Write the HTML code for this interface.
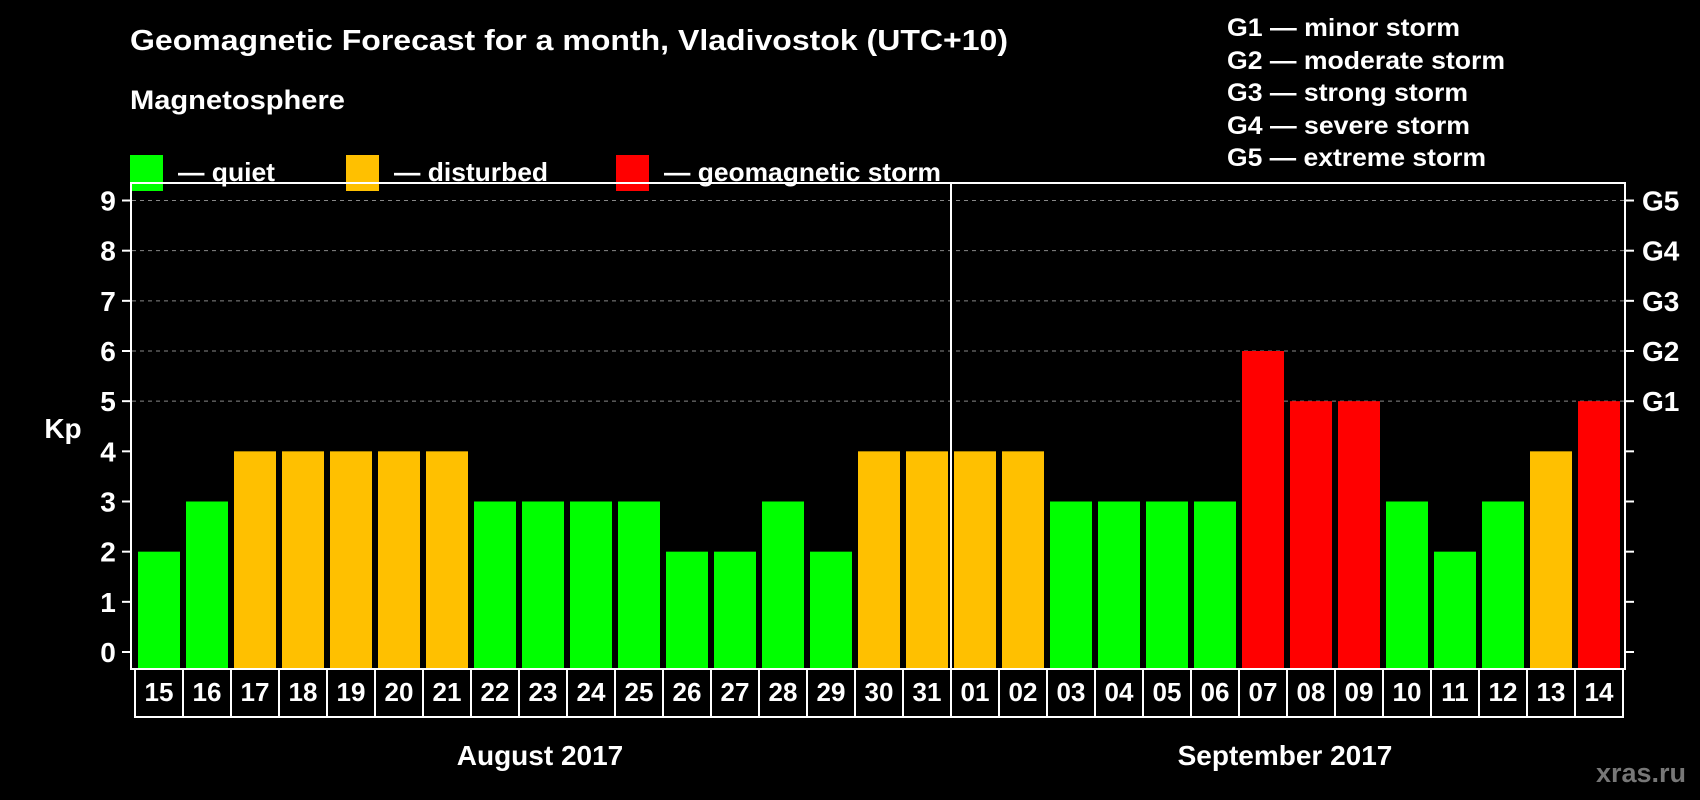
<!DOCTYPE html>
<html><head><meta charset="utf-8"><style>
html,body{margin:0;padding:0;background:#000;width:1700px;height:800px;overflow:hidden}
svg text{font-family:"Liberation Sans",sans-serif;font-weight:bold;fill:#fff}
</style></head><body>
<svg id="chart" width="1700" height="800" viewBox="0 0 1700 800" xmlns="http://www.w3.org/2000/svg">
<rect width="1700" height="800" fill="#000"/>
<text x="130" y="50" font-size="29" textLength="878" lengthAdjust="spacingAndGlyphs">Geomagnetic Forecast for a month, Vladivostok (UTC+10)</text>
<text x="130" y="109" font-size="27" textLength="215" lengthAdjust="spacingAndGlyphs">Magnetosphere</text>
<g><rect x="130" y="155" width="33" height="36" fill="#00ff00"/><text x="178" y="158" dy="0" font-size="26" transform="translate(0,23)" textLength="97" lengthAdjust="spacingAndGlyphs">— quiet</text></g>
<g><rect x="346" y="155" width="33" height="36" fill="#ffc000"/><text x="394" y="181" font-size="26" textLength="154" lengthAdjust="spacingAndGlyphs">— disturbed</text></g>
<g><rect x="616" y="155" width="33" height="36" fill="#ff0000"/><text x="664" y="181" font-size="26" textLength="277" lengthAdjust="spacingAndGlyphs">— geomagnetic storm</text></g>
<g font-size="25">
<text x="1227" y="36" textLength="233" lengthAdjust="spacingAndGlyphs">G1 — minor storm</text>
<text x="1227" y="69" textLength="278" lengthAdjust="spacingAndGlyphs">G2 — moderate storm</text>
<text x="1227" y="101" textLength="241" lengthAdjust="spacingAndGlyphs">G3 — strong storm</text>
<text x="1227" y="134" textLength="243" lengthAdjust="spacingAndGlyphs">G4 — severe storm</text>
<text x="1227" y="166" textLength="259" lengthAdjust="spacingAndGlyphs">G5 — extreme storm</text>
</g>
<g id="grid"></g>
<g id="bars"></g>
<rect x="131" y="183" width="1494" height="486" fill="none" stroke="#fff" stroke-width="2"/>
<line x1="951" y1="183" x2="951" y2="669" stroke="#fff" stroke-width="2"/>
<g id="axes"></g>
<g id="cells"></g>
<text x="63" y="438" font-size="28" text-anchor="middle">Kp</text>
<text x="540" y="765" font-size="28" text-anchor="middle">August 2017</text>
<text x="1285" y="765" font-size="28" text-anchor="middle">September 2017</text>
<text x="1686" y="782" font-size="27" text-anchor="end" style="fill:#777">xras.ru</text>
</svg>
<script>
const days = ["15","16","17","18","19","20","21","22","23","24","25","26","27","28","29","30","31","01","02","03","04","05","06","07","08","09","10","11","12","13","14"];
const kpValues = [2,3,4,4,4,4,4,3,3,3,3,2,2,3,2,4,4,4,4,3,3,3,3,6,5,5,3,2,3,4,5];
const yTicks = [0,1,2,3,4,5,6,7,8,9];
const gLabels = ["","","","","","G1","G2","G3","G4","G5"];
const NS="http://www.w3.org/2000/svg";
const y0=652, unit=(652-200.5)/9, plotBottom=669, x0=138, pitch=48, bw=42;
const yS=v=>y0-v*unit;
const xS=i=>x0+i*pitch;
function mk(tag,attrs,parent){const e=document.createElementNS(NS,tag);for(const k in attrs)e.setAttribute(k,attrs[k]);parent.appendChild(e);return e;}
const grid=document.getElementById('grid'),bars=document.getElementById('bars'),axes=document.getElementById('axes'),cells=document.getElementById('cells');
yTicks.forEach((t,i)=>{
  const y=yS(t);
  if(t>=5){const g=mk('line',{x1:132,x2:1624,y1:y,y2:y,stroke:'#888','stroke-width':1,'stroke-dasharray':'4,4'},grid);
  
  }
  const tl=mk('line',{x1:122,x2:131,y1:y,y2:y,stroke:'#fff','stroke-width':2},axes);
  
  
  const tr=mk('line',{x1:1625,x2:1634,y1:y,y2:y,stroke:'#fff','stroke-width':2},axes);
  
  
  const lb=mk('text',{x:108,y:y+10,'font-size':28,'text-anchor':'middle'},axes);
  lb.textContent=t;
  
  
  if(gLabels[i]){const gl=mk('text',{x:1642,y:y+10,'font-size':28},axes);
  gl.textContent=gLabels[i];
  
  }
});
kpValues.forEach((v,i)=>{
  const col=v>=5?'#ff0000':(v>=4?'#ffc000':'#00ff00');
  const r=mk('rect',{x:xS(i),y:yS(v),width:bw,height:plotBottom-yS(v),fill:col},bars);
  
  
});
days.forEach((d,i)=>{
  const cx=135+i*pitch;
  const c=mk('rect',{x:cx,y:669,width:pitch,height:48,fill:'none',stroke:'#fff','stroke-width':2},cells);
  
  
  const t=mk('text',{x:cx+pitch/2,y:701,'font-size':26,'text-anchor':'middle'},cells);
  t.textContent=d;
  
  
});
</script>
</body></html>
